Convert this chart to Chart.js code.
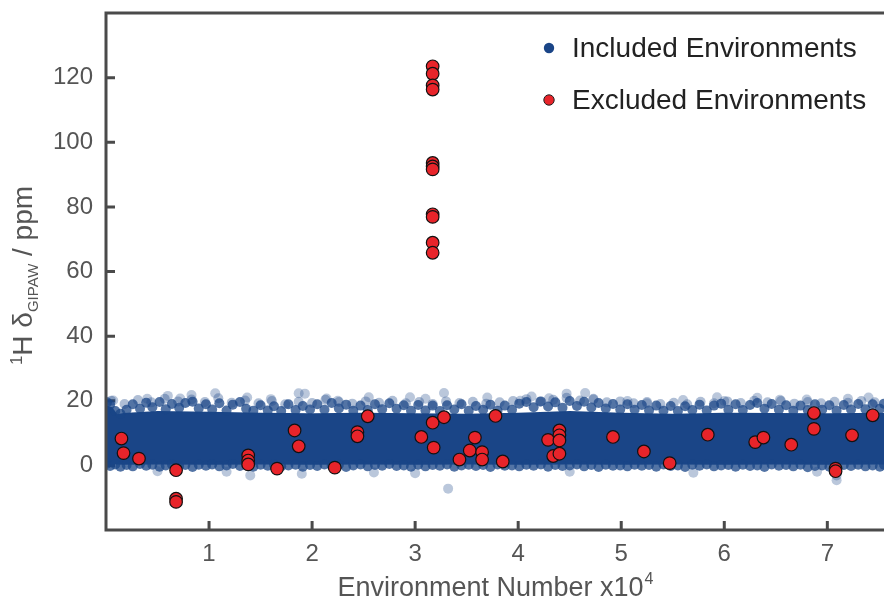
<!DOCTYPE html>
<html>
<head>
<meta charset="utf-8">
<script src="https://cdn.jsdelivr.net/npm/chart.js@4.4.0/dist/chart.umd.min.js"></script>
<style>
  body { margin: 0; background: #fff; }
  canvas { display: block; }
</style>
</head>
<body>
<canvas id="chart" width="884" height="600"></canvas>
<script>
// tick values
const xTicks = [1, 2, 3, 4, 5, 6, 7];
const yTicks = [0, 20, 40, 60, 80, 100, 120];

// dense core of the included cloud (lower / upper envelope)
const coreX    = [0, 0.06, 0.11, 0.17, 0.5, 1, 1.5, 2, 2.5, 3, 3.5, 4, 4.5, 5, 5.5, 6, 6.5, 7, 7.55];
const coreLow  = [0.5, 0.3, 0.3, 0.2, 0.3, 0.2, 0.3, 0.2, 0.3, 0.2, 0.3, 0.2, 0.3, 0.2, 0.3, 0.2, 0.3, 0.2, 0.3];
const coreHigh = [18.5, 18, 15.8, 16.2, 16.8, 16.6, 16.3, 16.1, 16.3, 16.1, 16.0, 16.3, 16.8, 16.3, 16.0, 16.3, 16.2, 16.1, 16.3];

// points along the edges of the cloud
const edgeX = [0.01,0.04,0.09,0.14,0.20,0.26,0.33,0.39,0.45,0.52,0.58,0.64,0.71,0.77,0.84,0.90,0.97,
  1.03,1.10,1.17,1.23,1.30,1.36,1.43,1.50,1.57,1.63,1.70,1.77,1.84,1.91,1.98,
  2.05,2.12,2.19,2.26,2.33,2.40,2.47,2.54,2.61,2.68,2.75,2.82,2.89,2.96,
  3.03,3.10,3.17,3.24,3.31,3.38,3.45,3.52,3.59,3.66,3.73,3.80,3.87,3.94,
  4.01,4.08,4.15,4.22,4.29,4.36,4.43,4.50,4.57,4.64,4.71,4.78,4.85,4.92,4.99,
  5.06,5.13,5.20,5.27,5.34,5.41,5.48,5.55,5.62,5.69,5.76,5.83,5.90,5.97,
  6.04,6.11,6.18,6.25,6.32,6.39,6.46,6.53,6.60,6.67,6.74,6.81,6.88,6.95,
  7.02,7.09,7.16,7.23,7.30,7.37,7.44,7.51,7.55];
const edgeTopY = [19.5,18.8,16.8,16.0,
  17.2,18.9,17.5,19.4,18.0,19.6,17.4,19.0,17.8,19.3,19.7,17.6,18.9,
  17.3,19.2,17.0,18.8,19.6,17.5,16.9,18.6,17.0,18.3,16.8,18.9,17.1,18.4,17.3,
  18.9,17.2,19.3,17.6,18.8,16.9,18.5,17.1,18.9,17.4,19.2,17.5,18.6,16.9,
  18.7,17.0,18.5,16.8,18.6,17.3,18.9,16.9,18.4,17.2,18.8,16.9,18.5,17.2,
  19.1,19.6,18.0,19.8,18.2,19.5,17.8,19.9,18.4,19.7,17.9,19.3,17.6,19.0,17.3,
  18.9,17.2,18.7,17.0,18.5,16.9,18.4,16.8,18.3,17.1,18.8,17.0,18.5,19.1,
  17.2,18.9,17.1,18.7,19.3,17.5,19.0,17.2,18.6,16.9,18.5,17.1,18.9,17.2,
  18.6,16.9,18.7,17.3,19.0,17.4,18.9,17.5,19.1];
const edgeBottomY = [0.5,-0.2,0.3,-0.4,
  0.1,-0.3,0.4,-0.1,0.2,-0.4,0.0,0.3,-0.2,0.1,-0.5,0.2,-0.1,
  0.3,-0.3,0.0,0.4,-0.2,0.1,-0.4,0.2,-0.1,0.3,-0.3,0.0,0.2,-0.4,0.1,
  -0.2,0.3,-0.1,0.2,-0.5,0.0,0.3,-0.3,0.1,-0.1,0.4,-0.2,0.0,-0.4,
  0.2,-0.3,0.1,-0.1,0.3,-0.4,0.0,0.2,-0.2,0.1,-0.5,0.3,-0.1,0.0,
  -0.3,0.2,-0.1,0.3,-0.4,0.1,-0.2,0.0,0.3,-0.3,0.1,-0.5,0.2,-0.1,0.0,
  -0.3,0.2,-0.1,0.1,-0.4,0.3,-0.2,0.0,-0.5,0.2,-0.1,0.3,-0.3,0.0,
  0.1,-0.4,0.2,-0.2,0.0,-0.5,0.3,-0.1,0.1,-0.3,0.2,-0.6,-0.2,0.0,
  -0.4,-0.7,0.1,-0.2,0.2,-0.3,0.0,-0.4,0.2];

// semi-transparent fringe just above the cloud
const fringeX = [0.05,0.18,0.31,0.44,0.57,0.70,0.83,0.96,1.09,1.22,1.35,1.48,1.61,1.74,1.87,2.00,2.13,2.26,2.39,2.52,
  2.65,2.78,2.91,3.04,3.17,3.30,3.43,3.56,3.69,3.82,3.95,4.08,4.21,4.34,4.47,4.60,4.73,4.86,4.99,5.12,
  5.25,5.38,5.51,5.64,5.77,5.90,6.03,6.16,6.29,6.42,6.55,6.68,6.81,6.94,7.07,7.20,7.33,7.46];
const fringeY = [20.0,19.0,20.2,19.5,20.6,19.8,20.4,19.6,20.8,19.4,20.1,19.2,19.9,18.9,19.7,19.3,20.3,19.6,19.1,19.8,
  19.4,20.0,19.2,19.6,19.0,19.8,19.3,19.7,19.1,19.5,19.9,20.5,19.7,20.3,20.9,20.1,20.6,19.5,19.8,19.2,
  19.6,19.0,19.4,18.9,19.7,19.2,19.8,19.3,20.0,19.5,19.9,19.1,19.6,19.2,19.7,19.4,19.9,19.5];

// scattered faint points outside the cloud
const strayX = [0.07,0.40,0.60,0.72,0.83,1.06,1.37,1.60,1.87,1.93,2.14,2.25,2.55,2.95,3.10,3.28,3.70,4.02,4.13,4.30,
  4.47,4.65,4.73,5.06,5.25,5.60,5.93,6.00,6.32,6.54,6.80,7.20,7.40,
  0.50,1.17,1.40,1.90,2.60,3.00,3.32,4.50,5.70,6.90,7.09,7.09];
const strayY = [20.1,20.6,21.5,20.7,21.8,22.3,21.0,20.5,22.3,22.2,20.7,20.0,21.1,21.1,20.6,22.4,21.0,20.0,21.3,20.8,
  22.2,22.4,20.4,19.9,19.2,20.2,21.1,19.9,20.9,20.3,20.4,20.6,21.0,
  -1.8,-2.0,-3.1,-2.6,-2.2,-2.4,-7.2,-2.0,-2.3,-2.0,-3.1,-4.6];

// excluded environments
const excludedX = [0.15,0.17,0.32,0.68,0.68,0.68,1.38,1.38,1.38,1.66,1.83,1.87,2.22,2.44,2.44,2.54,3.06,3.17,3.18,3.28,
  3.43,3.53,3.58,3.65,3.65,3.78,3.85,4.29,4.34,4.40,4.40,4.40,4.40,4.92,5.22,5.47,5.84,6.30,6.38,6.65,
  6.87,6.87,7.08,7.08,7.24,7.44,
  3.17,3.17,3.17,3.17,3.17,3.17,3.17,3.17,3.17,3.17,3.17];
const excludedY = [8.3,3.8,2.1,-1.5,-10.3,-11.3,3.1,1.5,0.3,-1.0,10.8,5.9,-0.7,10.3,9.0,15.2,8.8,13.2,5.5,14.9,
  1.8,4.6,8.6,4.1,1.8,15.3,1.2,7.9,2.9,10.8,9.3,7.7,3.6,8.8,4.3,0.7,9.5,7.2,8.6,6.4,
  16.2,11.3,-1.0,-1.8,9.3,15.5,
  123.5,121.2,117.6,116.3,93.6,92.5,91.6,77.7,76.9,68.9,65.8];

const BLUE = 'rgb(26,69,135)';
const RED = '#e8242a';
const AXIS = '#4a4a4a';
const FONT = "'Liberation Sans', Arial, sans-serif";

const pts = (xs, ys) => xs.map((x, i) => ({ x: x, y: ys[i] }));
const nEdge = edgeX.length * 2;
const nFringe = nEdge + fringeX.length;

const decor = {
  id: 'decor',
  beforeDatasetsDraw(chart) {
    // inward tick marks
    const ctx = chart.ctx, a = chart.chartArea;
    const sx = chart.scales.x, sy = chart.scales.y;
    ctx.save();
    ctx.strokeStyle = AXIS;
    ctx.lineWidth = 3;
    ctx.beginPath();
    xTicks.forEach(v => {
      const p = sx.getPixelForValue(v);
      ctx.moveTo(p, a.bottom);
      ctx.lineTo(p, a.bottom - 9);
    });
    yTicks.forEach(v => {
      const p = sy.getPixelForValue(v);
      ctx.moveTo(a.left, p);
      ctx.lineTo(a.left + 9, p);
    });
    ctx.stroke();
    ctx.restore();
  },
  afterDatasetsDraw(chart) {
    const ctx = chart.ctx, a = chart.chartArea;
    ctx.save();
    ctx.strokeStyle = AXIS;
    ctx.lineWidth = 3;
    ctx.beginPath();
    ctx.moveTo(a.right + 5, a.top);
    ctx.lineTo(a.left, a.top);
    ctx.lineTo(a.left, a.bottom);
    ctx.lineTo(a.right + 5, a.bottom);
    ctx.stroke();
    ctx.restore();
  },
  afterDraw(chart) {
    const ctx = chart.ctx, a = chart.chartArea;
    ctx.save();
    ctx.fillStyle = '#555';
    ctx.textBaseline = 'alphabetic';

    // x title
    const xt = 'Environment Number x10';
    ctx.font = '27px ' + FONT;
    const w1 = ctx.measureText(xt).width;
    ctx.font = '16px ' + FONT;
    const w2 = ctx.measureText('4').width;
    let x0 = (a.left + a.right) / 2 - (w1 + w2) / 2;
    ctx.font = '27px ' + FONT;
    ctx.textAlign = 'left';
    ctx.fillText(xt, x0, 596);
    ctx.font = '16px ' + FONT;
    ctx.fillText('4', x0 + w1 + 1, 584);

    // y title (rotated)
    const parts = [
      { t: '1', f: '17px', dy: -10 },
      { t: 'H δ', f: '28px', dy: 0 },
      { t: 'GIPAW', f: '15px', dy: 6 },
      { t: ' / ppm', f: '28px', dy: 0 }
    ];
    let tot = 0;
    parts.forEach(p => { ctx.font = p.f + ' ' + FONT; p.w = ctx.measureText(p.t).width; tot += p.w; });
    ctx.translate(32, (a.top + a.bottom) / 2 + 4);
    ctx.rotate(-Math.PI / 2);
    let cx = -tot / 2;
    parts.forEach(p => {
      ctx.font = p.f + ' ' + FONT;
      ctx.fillText(p.t, cx, p.dy);
      cx += p.w;
    });
    ctx.restore();

    // legend
    ctx.save();
    ctx.font = '28px ' + FONT;
    ctx.textBaseline = 'middle';
    chart.data.datasets
      .filter(d => d.legendRank !== undefined)
      .sort((p, q) => p.legendRank - q.legendRank)
      .forEach((d, i) => {
        const y = 48 + i * 52;
        ctx.beginPath();
        ctx.arc(549, y, 5.2, 0, Math.PI * 2);
        ctx.fillStyle = d.legendColor;
        ctx.fill();
        if (d.legendBorder) {
          ctx.lineWidth = 1;
          ctx.strokeStyle = '#222';
          ctx.stroke();
        }
        ctx.fillStyle = '#222';
        ctx.fillText(d.label, 572, y + 1);
      });
    ctx.restore();
  }
};

new Chart(document.getElementById('chart'), {
  type: 'scatter',
  data: {
    datasets: [
      {
        label: 'Excluded Environments',
        data: pts(excludedX, excludedY),
        backgroundColor: RED,
        borderColor: '#111',
        borderWidth: 1.2,
        pointRadius: 6.3,
        order: 0,
        legendRank: 1, legendColor: RED, legendBorder: true
      },
      {
        label: 'Included Environments',
        data: pts(edgeX, edgeTopY).concat(pts(edgeX, edgeBottomY), pts(fringeX, fringeY), pts(strayX, strayY)),
        backgroundColor: c => c.dataIndex < nEdge ? 'rgba(26,69,135,0.75)'
          : (c.dataIndex < nFringe ? 'rgba(26,69,135,0.35)' : 'rgba(26,69,135,0.3)'),
        borderWidth: 0,
        pointRadius: 5,
        order: 1,
        legendRank: 0, legendColor: BLUE
      },
      {
        label: 'core low',
        data: pts(coreX, coreLow),
        showLine: true, pointRadius: 0, borderWidth: 0, fill: false,
        order: 3
      },
      {
        label: 'core high',
        data: pts(coreX, coreHigh),
        showLine: true, pointRadius: 0, borderWidth: 0,
        backgroundColor: BLUE, fill: '-1',
        order: 2
      }
    ]
  },
  options: {
    responsive: false,
    animation: false,
    devicePixelRatio: 1,
    layout: { autoPadding: false, padding: { top: 13, left: 0, right: 0, bottom: 0 } },
    plugins: { legend: { display: false }, tooltip: { enabled: false } },
    scales: {
      x: {
        type: 'linear', min: 0, max: 7.55,
        afterBuildTicks: s => { s.ticks = xTicks.map(v => ({ value: v })); },
        afterFit: s => { s.height = 70; s.paddingLeft = 0; s.paddingRight = 0; },
        grid: { display: false, drawTicks: false },
        border: { display: false },
        ticks: { font: { family: FONT, size: 24 }, color: '#555', padding: 10, maxRotation: 0, autoSkip: false }
      },
      y: {
        type: 'linear', min: -20, max: 140,
        afterBuildTicks: s => { s.ticks = yTicks.map(v => ({ value: v })); },
        afterFit: s => { s.width = 106; s.paddingTop = 0; s.paddingBottom = 0; },
        grid: { display: false, drawTicks: false },
        border: { display: false },
        ticks: { font: { family: FONT, size: 24 }, color: '#555', padding: 13 }
      }
    }
  },
  plugins: [decor]
});
</script>
</body>
</html>
